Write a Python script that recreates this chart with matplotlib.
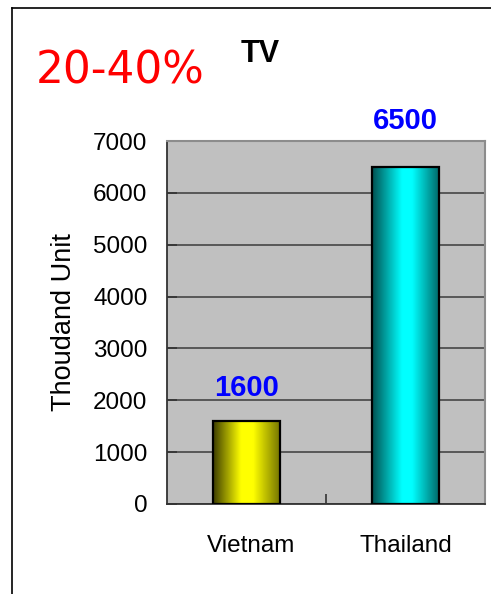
import numpy as np
import matplotlib
matplotlib.use('Agg')
from matplotlib import pyplot as plt
from matplotlib.colors import LinearSegmentedColormap
from matplotlib.patches import Rectangle

countries = ['Vietnam', 'Thailand']
values = [1600, 6500]
yticks = [0, 1000, 2000, 3000, 4000, 5000, 6000, 7000]
title = 'TV'
note = '20-40%'
ylabel = 'Thoudand Unit'

# dark edge -> bright middle -> dark edge, like excel's shaded bars
cmaps = [
    LinearSegmentedColormap.from_list('yel', [(0, '#3c3c00'), (0.42, '#ffff00'), (0.6, '#ffff00'), (1, '#767600')]),
    LinearSegmentedColormap.from_list('cya', [(0, '#005050'), (0.45, '#00ffff'), (0.6, '#00ffff'), (1, '#006a6a')]),
]
lbl_offset = [19, 32]  # px above the bar, the 6500 one sits higher in the original

plt.rcParams['font.family'] = ['Liberation Sans', 'DejaVu Sans']

fig = plt.figure(figsize=(4.91, 5.94), dpi=100)
ax = fig.add_axes([167/491, 90/594, 318/491, 363/594])
ax.set_facecolor('#c0c0c0')

x = np.arange(len(countries))
w = 0.42
grad = np.linspace(0, 1, 256).reshape(1, -1)
for i in range(len(countries)):
    ax.imshow(grad, cmap=cmaps[i], aspect='auto',
              extent=[x[i]-w/2, x[i]+w/2, 0, values[i]], zorder=3)
    ax.add_patch(Rectangle((x[i]-w/2, 0), w, values[i], fill=False,
                           edgecolor='black', lw=1.6, zorder=4))
    ax.annotate(str(values[i]), (x[i], values[i]), xytext=(0, lbl_offset[i] * 0.72),
                textcoords='offset points', ha='center', va='bottom',
                color='#0000ff', fontsize=21, fontweight='bold', annotation_clip=False)

ax.set_xlim(-0.5, 1.5)
ax.set_ylim(0, 7000)
ax.set_yticks(yticks)
ax.set_yticklabels([str(t) for t in yticks], fontsize=17.5)
ax.set_xticks([0.03, 1])
ax.set_xticklabels(countries, fontsize=17.5)
ax.tick_params(axis='x', length=0, pad=22)
ax.tick_params(axis='y', direction='in', length=7, width=1.2, pad=14, color='#333333')
ax.set_xticks([0.5], minor=True)
ax.tick_params(axis='x', which='minor', direction='in', length=7, width=1.2, color='#333333')
ax.yaxis.grid(True, color='#505050', lw=1.3, zorder=1)
ax.set_axisbelow(True)
for s in ['top', 'right']:
    ax.spines[s].set_color('#8c8c8c')
    ax.spines[s].set_linewidth(1.5)
for s in ['left', 'bottom']:
    ax.spines[s].set_color('#333333')
    ax.spines[s].set_linewidth(1.3)
ax.set_ylabel(ylabel, fontsize=19.5, labelpad=12)

fig.text(260/491, 1 - 54/594, title, ha='center', va='center',
         fontsize=22, fontweight='bold')
fig.text(36/491, 1 - 83/594, note, ha='left', va='baseline',
         fontsize=31.5, color='#ff0000', family='DejaVu Sans')

# outer frame (only left and top edges show)
fig.add_artist(plt.Line2D([12/491, 12/491], [0, 1 - 8/594], color='black', lw=1.2))
fig.add_artist(plt.Line2D([12/491, 1], [1 - 8/594, 1 - 8/594], color='black', lw=1.2))

fig.savefig('out.png', dpi=100)
